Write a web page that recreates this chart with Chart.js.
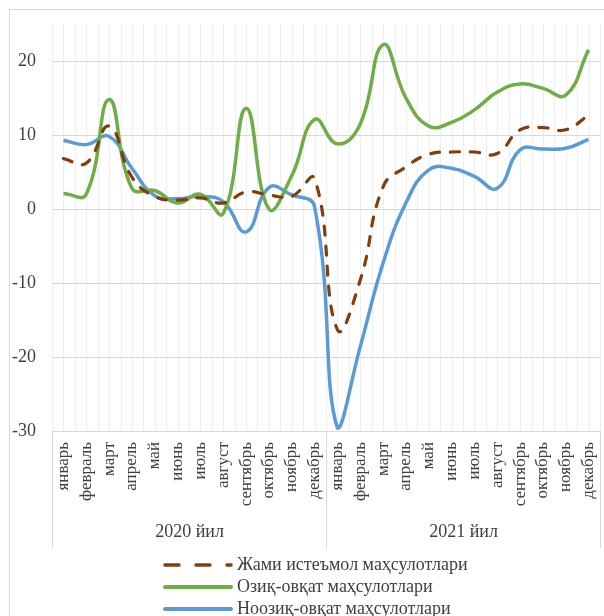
<!DOCTYPE html>
<html>
<head>
<meta charset="utf-8">
<script src="https://cdn.jsdelivr.net/npm/chart.js@4"></script>
<style>
  html, body { margin: 0; padding: 0; background: #ffffff; }
  #wrap { width: 604px; height: 616px; position: relative; }
</style>
</head>
<body>
<div id="wrap"><canvas id="c" width="604" height="616"></canvas></div>
<script>
// ---- data ----
const months = ['январь','февраль','март','апрель','май','июнь','июль','август','сентябрь','октябрь','ноябрь','декабрь'];
const years = ['2020 йил', '2021 йил'];
const categories = months.concat(months);
const yTickValues = [-30, -20, -10, 0, 10, 20];

const seriesNames = ['Жами истеъмол маҳсулотлари', 'Озиқ-овқат маҳсулотлари', 'Ноозиқ-овқат маҳсулотлари'];
const totalValues = [6.8, 6.2, 11.2, 4.3, 1.7, 1.2, 1.5, 0.8, 2.3, 1.9, 1.7, 4.1,
                     -16.3, -9.6, 3.0, 5.7, 7.4, 7.7, 7.7, 7.5, 10.7, 11.0, 10.7, 12.7];
const foodValues  = [2.1, 2.0, 14.8, 2.8, 2.5, 0.8, 2.0, -0.6, 13.6, 0.0, 4.5, 12.1,
                     8.8, 11.5, 22.2, 15.0, 11.2, 11.7, 13.4, 15.8, 16.9, 16.3, 15.4, 21.5];
const nonFoodValues = [9.3, 8.7, 9.8, 5.5, 1.8, 1.4, 1.7, 1.0, -3.1, 2.9, 1.9, 0.3,
                       -29.6, -18.6, -7.3, 0.8, 5.3, 5.5, 4.4, 2.8, 8.0, 8.1, 8.2, 9.4];

// ---- styles ----
const FONT = '"Liberation Serif", "Times New Roman", serif';
const TXT = '#404040';
const GRID_H = '#d9d9d9';
const GRID_V = '#eeeeee';
const colors = ['#843c0c', '#70ad47', '#5b9bd5'];

const decorPlugin = {
  id: 'decor',
  beforeDraw(chart) {
    const ctx = chart.ctx;
    const a = chart.chartArea;
    const xs = chart.scales.x;
    ctx.save();
    ctx.fillStyle = '#ffffff';
    ctx.fillRect(0, 0, chart.width, chart.height);
    // outer chart border
    ctx.strokeStyle = '#d9d9d9';
    ctx.lineWidth = 1;
    ctx.strokeRect(9.5, 9.5, 800, 800);
    // vertical grid lines: at category centres and boundaries
    ctx.strokeStyle = GRID_V;
    ctx.lineWidth = 1;
    const half = (xs.getPixelForValue(1) - xs.getPixelForValue(0)) / 2;
    for (let i = 0; i < categories.length; i++) {
      const c = xs.getPixelForValue(i);
      const pos = [c - half, c];
      if (i === categories.length - 1) pos.push(c + half);
      pos.forEach(p => {
        const px = Math.round(p) + 0.5;
        ctx.beginPath();
        ctx.moveTo(px, a.top);
        ctx.lineTo(px, a.bottom);
        ctx.stroke();
      });
    }
    ctx.restore();
  },
  afterDraw(chart) {
    const ctx = chart.ctx;
    const a = chart.chartArea;
    const xs = chart.scales.x;
    const half = (xs.getPixelForValue(1) - xs.getPixelForValue(0)) / 2;
    ctx.save();
    // group separators
    ctx.strokeStyle = GRID_H;
    ctx.lineWidth = 1;
    const bounds = [0, 12, 24].map(i => Math.round(xs.getPixelForValue(i) - half) + 0.5);
    bounds.forEach(px => {
      ctx.beginPath();
      ctx.moveTo(px, a.bottom);
      ctx.lineTo(px, a.bottom + 117);
      ctx.stroke();
    });
    // year group labels
    ctx.fillStyle = TXT;
    ctx.font = '18px ' + FONT;
    ctx.textAlign = 'center';
    ctx.textBaseline = 'middle';
    years.forEach((y, k) => {
      const cx = (bounds[k] + bounds[k + 1]) / 2;
      ctx.fillText(y, cx, a.bottom + 101);
    });
    // legend
    const rows = [565, 587, 609];
    const x0 = 165, x1 = 231;
    chart.data.datasets.forEach((ds, k) => {
      const y = rows[k];
      ctx.strokeStyle = ds.borderColor;
      ctx.lineWidth = k === 0 ? 3.5 : 4;
      ctx.lineCap = 'round';
      ctx.setLineDash(k === 0 ? [14, 17] : []);
      ctx.beginPath();
      ctx.moveTo(x0, y);
      ctx.lineTo(x1, y);
      ctx.stroke();
      ctx.setLineDash([]);
      ctx.fillStyle = TXT;
      ctx.textAlign = 'left';
      ctx.textBaseline = 'middle';
      ctx.font = '18px ' + FONT;
      ctx.fillText(ds.label, 237, y);
    });
    ctx.restore();
  }
};

new Chart(document.getElementById('c'), {
  type: 'line',
  data: {
    labels: categories,
    datasets: [
      { label: seriesNames[0], data: totalValues, borderColor: colors[0], borderWidth: 3.2,
        borderDash: [9, 11], borderCapStyle: 'round' },
      { label: seriesNames[1], data: foodValues, borderColor: colors[1], borderWidth: 3.5 },
      { label: seriesNames[2], data: nonFoodValues, borderColor: colors[2], borderWidth: 3.5 }
    ].map(d => Object.assign(d, { pointRadius: 0, pointHoverRadius: 0, fill: false, tension: 0.45 }))
  },
  options: {
    responsive: false,
    animation: false,
    devicePixelRatio: 1,
    layout: { padding: { top: 24, right: 4, left: 0, bottom: 0 } },
    plugins: { legend: { display: false }, tooltip: { enabled: false }, title: { display: false } },
    scales: {
      x: {
        offset: true,
        grid: { display: false, drawTicks: false },
        border: { display: true, color: GRID_H },
        ticks: {
          autoSkip: false, minRotation: 90, maxRotation: 90, padding: 11,
          color: TXT, font: { family: FONT, size: 17 }
        },
        afterFit(scale) { scale.height = 185; scale.paddingLeft = 0; scale.paddingRight = 0; }
      },
      y: {
        min: -30, max: 25,
        afterBuildTicks(scale) { scale.ticks = yTickValues.map(v => ({ value: v })); },
        grid: { color: GRID_H, lineWidth: 1, drawTicks: false },
        border: { display: false },
        ticks: { padding: 16, color: TXT, font: { family: FONT, size: 18 } },
        afterFit(scale) { scale.width = 52; scale.paddingTop = 0; scale.paddingBottom = 0; }
      }
    }
  },
  plugins: [decorPlugin]
});
</script>
</body>
</html>
